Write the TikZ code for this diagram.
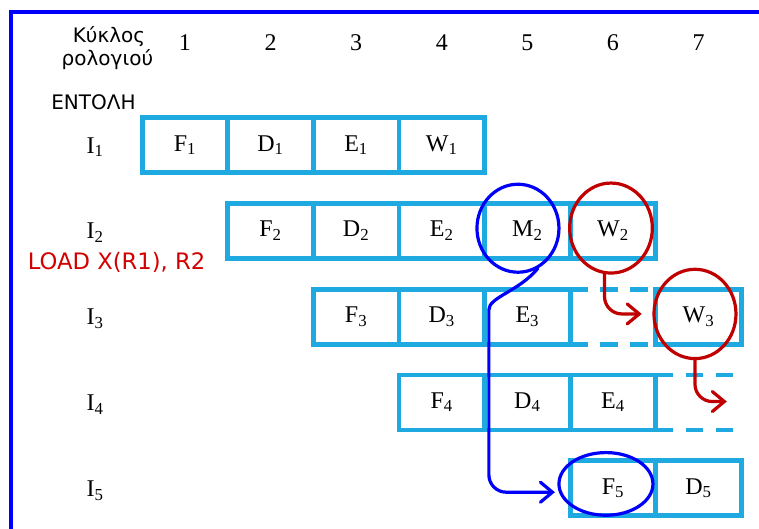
\documentclass[tikz,border=0pt]{standalone}
\usepackage{fontspec}
\setmainfont{Liberation Serif}
\newfontfamily\greeksans{DejaVu Sans}
\usepackage{tikz}
\usetikzlibrary{arrows.meta,shapes.geometric}
\definecolor{stagecyan}{RGB}{30,170,225}
\definecolor{hazred}{RGB}{192,0,0}
\definecolor{loadred}{RGB}{210,0,0}
\definecolor{fwdblue}{RGB}{0,0,250}
\tikzset{
  stage/.style={
    shape = rectangle,
    draw = stagecyan,
    line width = 3.6pt,
    minimum width = 64.2pt,
    minimum height = 41.25pt,
    inner sep = 0pt,
    outer sep = 0pt,
    font = \fontsize{18}{20}\selectfont
  },
  stall/.style={
    draw = stagecyan,
    line width = 3.6pt,
    dash pattern = on 13pt off 9.5pt
  },
  hazard/.style={
    shape = ellipse,
    draw = #1,
    line width = 2.4pt,
    inner sep = 0pt
  },
  fwd/.style={
    draw = #1,
    line width = 2.4pt,
    rounded corners = 13pt,
    line cap = round,
    -{Straight Barb[length=9pt,width=15pt,line cap=round]}
  },
  head/.style={
    font = \fontsize{18}{20}\selectfont,
    anchor = base
  },
  greek/.style={
    font = \greeksans\fontsize{15}{18}\selectfont,
    anchor = base
  }
}
\begin{document}
\begin{tikzpicture}[x=64.2pt,y=64.35pt]
        \useasboundingbox (-1.161,-5.464) rectangle (7.706,0.690);
        \clip (-1.161,-5.464) rectangle (7.706,0.690);
        \draw[fwdblue, line width=3.4pt] (-1.033,-6) rectangle (8,0.550);
        % header
        \node[greek] (kyk) at (0.112,0.189) {Κύκλος};
        \node[greek] (rol) at (0.094,-0.068) {ρολογιού};
        \node[head] (n1) at (1,0.096) {1};
        \node[head] (n2) at (2,0.096) {2};
        \node[head] (n3) at (3,0.096) {3};
        \node[head] (n4) at (4,0.096) {4};
        \node[head] (n5) at (5,0.096) {5};
        \node[head] (n6) at (6,0.096) {6};
        \node[head] (n7) at (7,0.096) {7};
        \node[greek] (entoli) at (-0.069,-0.592) {ΕΝΤΟΛΗ};
        % instructions
        \node[head, anchor=base west] (I1) at (-0.203,-1.095) {I\textsubscript{1}};
        \node[head, anchor=base west] (I2) at (-0.203,-2.095) {I\textsubscript{2}};
        \node[head, anchor=base west] (I3) at (-0.203,-3.095) {I\textsubscript{3}};
        \node[head, anchor=base west] (I4) at (-0.203,-4.095) {I\textsubscript{4}};
        \node[head, anchor=base west] (I5) at (-0.203,-5.1) {I\textsubscript{5}};
        \node[greek, anchor=base west, loadred, font=\greeksans\fontsize{17}{18}\selectfont] (load) at (-0.89,-2.446) {LOAD X(R1), R2};
        % pipeline stages
        \node[stage] (F1) at (1,-1) {F\textsubscript{1}};
        \node[stage] (D1) at (2,-1) {D\textsubscript{1}};
        \node[stage] (E1) at (3,-1) {E\textsubscript{1}};
        \node[stage] (W1) at (4,-1) {W\textsubscript{1}};
        \node[stage] (F2) at (2,-2) {F\textsubscript{2}};
        \node[stage] (D2) at (3,-2) {D\textsubscript{2}};
        \node[stage] (E2) at (4,-2) {E\textsubscript{2}};
        \node[stage] (M2) at (5,-2) {M\textsubscript{2}};
        \node[stage] (W2) at (6,-2) {W\textsubscript{2}};
        \node[stage] (F3) at (3,-3) {F\textsubscript{3}};
        \node[stage] (D3) at (4,-3) {D\textsubscript{3}};
        \node[stage] (E3) at (5,-3) {E\textsubscript{3}};
        \node[stage, draw=none] (S3) at (6,-3) {};
        \node[stage] (W3) at (7,-3) {W\textsubscript{3}};
        \node[stage] (F4) at (4,-4) {F\textsubscript{4}};
        \node[stage] (D4) at (5,-4) {D\textsubscript{4}};
        \node[stage] (E4) at (6,-4) {E\textsubscript{4}};
        \node[stage, draw=none] (S4) at (7,-4) {};
        \node[stage] (F5) at (6,-5) {F\textsubscript{5}};
        \node[stage] (D5) at (7,-5) {D\textsubscript{5}};
        % stalls
        \draw[stall] (S3.north west) -- (S3.north east);
        \draw[stall] (S3.south west) -- (S3.south east);
        \draw[stall] (S4.north west) -- (S4.north east);
        \draw[stall] (S4.south west) -- (S4.south east);
        % hazards
        \node[hazard=fwdblue, minimum width=61.5pt, minimum height=66pt] (cM2) at (4.89,-1.97) {};
        \node[hazard=hazred, minimum width=62pt, minimum height=67.5pt] (cW2) at (5.977,-1.968) {};
        \node[hazard=hazred, minimum width=61.5pt, minimum height=67pt] (cW3) at (6.958,-2.969) {};
        \node[hazard=fwdblue, minimum width=70.5pt, minimum height=47pt] (cF5) at (5.918,-4.95) {};
        \coordinate (w3out) at (7.33,-3.99);
        \draw[fwd=fwdblue, shorten >=3pt] (cM2.-64) to[out=-130,in=90] ++(-0.57,-0.68) |- (cF5.190);
        \draw[fwd=hazred, shorten >=8pt] (cW2.-98) |- (cW3.west);
        \draw[fwd=hazred] (cW3.south) |- (w3out);
    \end{tikzpicture}
\end{document}
